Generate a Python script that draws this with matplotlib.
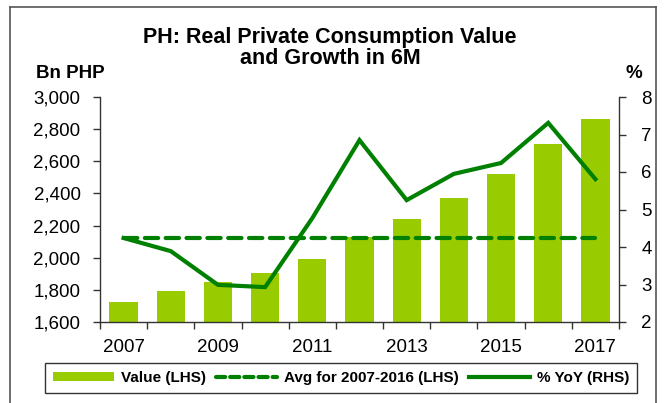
import matplotlib
matplotlib.use("Agg")
import matplotlib.pyplot as plt
import numpy as np
from matplotlib.lines import Line2D
from matplotlib.patches import Patch
from matplotlib.ticker import FuncFormatter, FixedLocator

plt.rcParams['font.family'] = ['Liberation Sans', 'DejaVu Sans']

years = ["2007", "2008", "2009", "2010", "2011", "2012", "2013", "2014", "2015", "2016", "2017"]
values = [1725, 1795, 1850, 1905, 1990, 2130, 2240, 2370, 2520, 2705, 2865]
yoy = [4.24, 3.89, 2.99, 2.93, 4.77, 6.85, 5.25, 5.95, 6.24, 7.31, 5.81]
avg_value = float(np.mean(values[:10]))

W, H = 667, 403
fig = plt.figure(figsize=(W / 100, H / 100), dpi=100)
fig.patch.set_facecolor("white")

def fx(px):
    return px / W

def fy(py):
    return 1 - py / H

ax = fig.add_axes([fx(100), fy(322), fx(619) - fx(100), fy(97) - fy(322)])
ax2 = ax.twinx()

bar_color = "#99CC00"
line_color = "#008000"

x = np.arange(len(years))
ax.bar(x, values, width=0.6, color=bar_color, zorder=2)
ax.plot([x[0], x[-1]], [avg_value, avg_value], color=line_color, lw=3.0,
        dashes=(3.2, 1.8), dash_capstyle="round", zorder=3)
ax2.plot(x, yoy, color=line_color, lw=3.0, zorder=4, solid_joinstyle="miter")

ax.set_xlim(-0.5, len(years) - 0.5)
ax.set_ylim(1600, 3000)
ax.set_yticks(np.arange(1600, 3001, 200))
ax.yaxis.set_major_formatter(FuncFormatter(lambda v, p: f"{int(v):,}"))
ax2.set_ylim(2, 8)
ax2.set_yticks(np.arange(2, 9, 1))

# x ticks at category boundaries, labels every other year
ax.xaxis.set_major_locator(FixedLocator(np.arange(-0.5, len(years), 1.0)))
ax.xaxis.set_major_formatter(FuncFormatter(lambda v, p: ""))
ax.set_xticks(x[::2], minor=True)
ax.set_xticklabels(years[::2], minor=True)
ax.tick_params(axis="x", which="major", direction="out", length=5, width=1, color="#333333")
ax.tick_params(axis="x", which="minor", length=0, labelsize=13.5, pad=12)
ax.tick_params(axis="y", direction="out", length=5, width=1, color="#333333", labelsize=13.5, pad=9)
ax2.tick_params(axis="y", direction="out", length=5, width=1, color="#333333", labelsize=13.5, pad=11)

for a in (ax, ax2):
    a.spines["top"].set_visible(False)
    for s in ("left", "right", "bottom"):
        a.spines[s].set_color("#333333")
        a.spines[s].set_linewidth(1)
ax.spines["right"].set_visible(False)
ax2.spines["left"].set_visible(False)
ax2.spines["bottom"].set_visible(False)

fig.text(fx(330), fy(48), "PH: Real Private Consumption Value\nand Growth in 6M",
         ha="center", va="center", fontsize=15.5, fontweight="bold", linespacing=1.0)
fig.text(fx(36), fy(73), "Bn PHP", ha="left", va="center", fontsize=13.5, fontweight="bold")
fig.text(fx(634), fy(73), "%", ha="center", va="center", fontsize=13.5, fontweight="bold")

handles = [
    Patch(facecolor=bar_color, edgecolor="none"),
    Line2D([0], [0], color=line_color, lw=3.0, dashes=(2.2, 1.2), dash_capstyle="round"),
    Line2D([0], [0], color=line_color, lw=3.0),
]
labels = ["Value (LHS)", "Avg for 2007-2016 (LHS)", "% YoY (RHS)"]
leg = fig.legend(handles, labels, loc="center", bbox_to_anchor=(fx(341), fy(378)),
                 ncol=3, frameon=True, fancybox=False, edgecolor="black",
                 prop={"weight": "bold", "size": 11}, handlelength=4.0,
                 handletextpad=0.45, columnspacing=0.65, borderpad=0.55,
                 borderaxespad=0, handleheight=0.6)
leg.get_frame().set_linewidth(1)

# outer frame
frame_color = "#555555"
fig.add_artist(Line2D([fx(10), fx(10)], [fy(7), 0], color=frame_color, lw=1.2, transform=fig.transFigure))
fig.add_artist(Line2D([fx(10), fx(656)], [fy(7), fy(7)], color=frame_color, lw=1.2, transform=fig.transFigure))
fig.add_artist(Line2D([fx(656), fx(656)], [fy(7), 0], color=frame_color, lw=1.2, transform=fig.transFigure))

fig.savefig("out.png", dpi=100, facecolor="white")
